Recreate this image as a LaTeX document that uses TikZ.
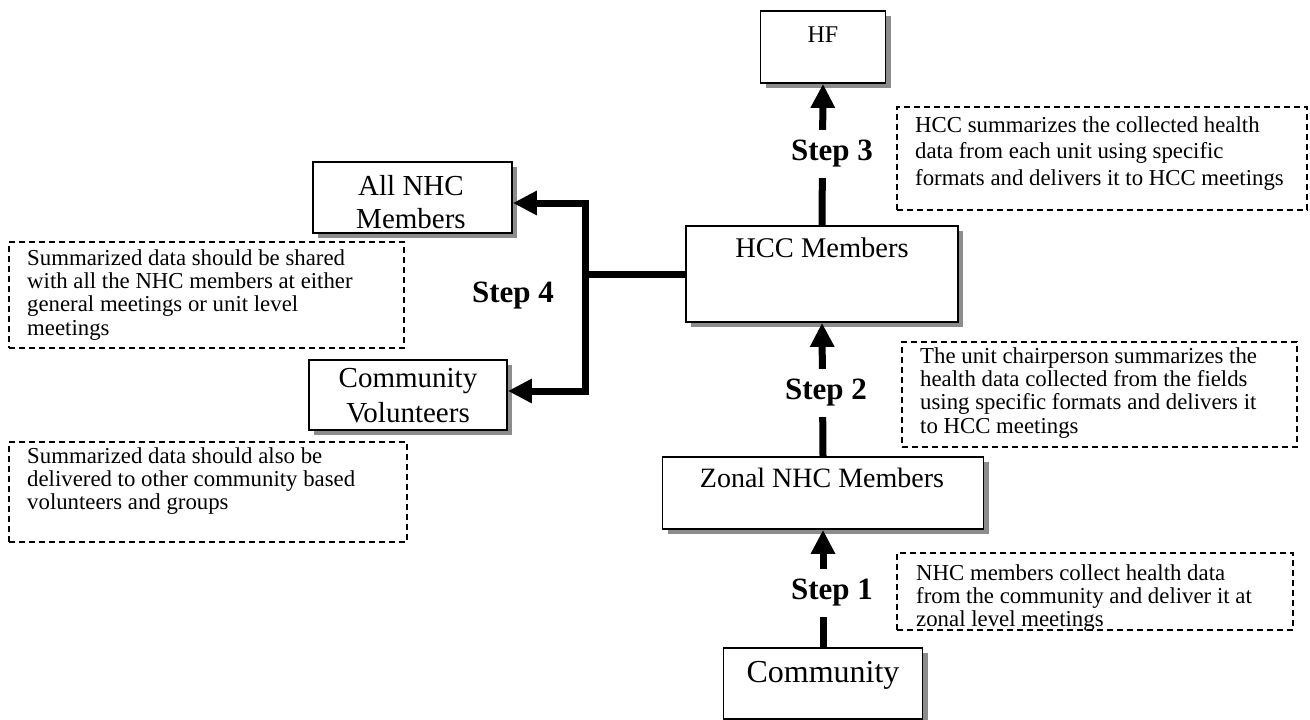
\documentclass[tikz,border=0pt]{standalone}
\usepackage{fontspec}
\setmainfont{Liberation Serif}
\usetikzlibrary{arrows.meta,shadows}
\tikzset{
  box/.style={draw=black, line width=1.8pt, fill=white, rectangle, inner sep=0pt,
    drop shadow={shadow xshift=5pt, shadow yshift=-5pt, fill=black!45, opacity=1}},
  lbl/.style={inner sep=0pt, align=center},
  dbox/.style={draw=black, line width=1.3pt, dash pattern=on 6pt off 4pt, rectangle, inner sep=0pt},
  dtext/.style={inner sep=0pt, align=left, anchor=north west, font=\fontsize{22.8}{23.4}\selectfont},
  steplbl/.style={fill=white, inner sep=0pt, minimum height=48pt, font=\bfseries\fontsize{31}{31}\selectfont},
  flow/.style={line width=7pt, -{Triangle[width=23pt,length=24pt]}},
  bar/.style={line width=7pt},
}
\begin{document}
\begin{tikzpicture}[x=1pt,y=-1pt]
\useasboundingbox (0,0) rectangle (1310,720);

% boxes
\node[box, minimum width=125pt, minimum height=72pt] (HF) at (823,47) {};
\node[box, minimum width=272pt, minimum height=96pt] (HCC) at (822,274) {};
\node[box, minimum width=321pt, minimum height=72pt] (ZON) at (823,493) {};
\node[box, minimum width=199pt, minimum height=71pt] (COM) at (823,683.5) {};
\node[box, minimum width=199pt, minimum height=71pt] (ALL) at (412.5,197.5) {};
\node[box, minimum width=198pt, minimum height=70pt] (CV) at (408,395) {};

% box labels
\node[lbl, anchor=base, font=\fontsize{24}{28}\selectfont] (HFt) at (823,42) {HF};
\node[lbl, anchor=base, font=\fontsize{28.5}{34}\selectfont] (HCCt) at (822,257) {HCC Members};
\node[lbl, anchor=base, font=\fontsize{28}{34}\selectfont] (ZONt) at (822,487) {Zonal NHC Members};
\node[lbl, anchor=base, font=\fontsize{32}{36}\selectfont] (COMt) at (823,682) {Community};
\node[lbl, anchor=north, font=\fontsize{29}{33}\selectfont] (ALLt) at (411,175) {All NHC\\Members};
\node[lbl, anchor=north, font=\fontsize{29}{35}\selectfont] (CVt) at (408,368) {Community\\Volunteers};

% connectors
\draw[flow] (HCC.north) -- (HF.south);
\draw[flow] (ZON.north) -- (HCC.south);
\draw[flow] (COM.north) -- (ZON.south);
\coordinate (J) at (585,274);
\draw[bar] (HCC.west) -- (J);
\draw[flow] (J) |- ([yshift=-5.5pt]ALL.east);
\draw[flow] (J) |- ([yshift=4pt]CV.east);

% step labels
\node[steplbl] (S3) at (832,154) {Step 3};
\node[steplbl] (S2) at (826,392.5) {Step 2};
\node[steplbl] (S1) at (832,592.5) {Step 1};
\node[inner sep=0pt, font=\bfseries\fontsize{31}{31}\selectfont] (S4) at (513,296) {Step 4};

% dashed note boxes
\node[dbox, minimum width=410pt, minimum height=103pt] (D3) at (1102,158.5) {};
\node[dbox, minimum width=395pt, minimum height=105pt] (D2) at (1099.5,394.5) {};
\node[dbox, minimum width=396pt, minimum height=77pt] (D1) at (1095,591.5) {};
\node[dbox, minimum width=395pt, minimum height=106pt] (L1) at (206.5,295) {};
\node[dbox, minimum width=398pt, minimum height=100pt] (L2) at (208,492) {};

\node[dtext, font=\fontsize{22.8}{26.5}\selectfont] (D3t) at (915,116) {HCC summarizes the collected health\\data from each unit using specific\\formats and delivers it to HCC meetings};
\node[dtext] (D2t) at (920,347) {The unit chairperson summarizes the\\health data collected from the fields\\using specific formats and delivers it\\to HCC meetings};
\node[dtext] (D1t) at (916,564) {NHC members collect health data\\from the community and deliver it at\\zonal level meetings};
\node[dtext] (L1t) at (27,249) {Summarized data should be shared\\with all the NHC members at either\\general meetings or unit level\\meetings};
\node[dtext] (L2t) at (27,447) {Summarized data should also be\\delivered to other community based\\volunteers and groups};
\end{tikzpicture}
\end{document}
